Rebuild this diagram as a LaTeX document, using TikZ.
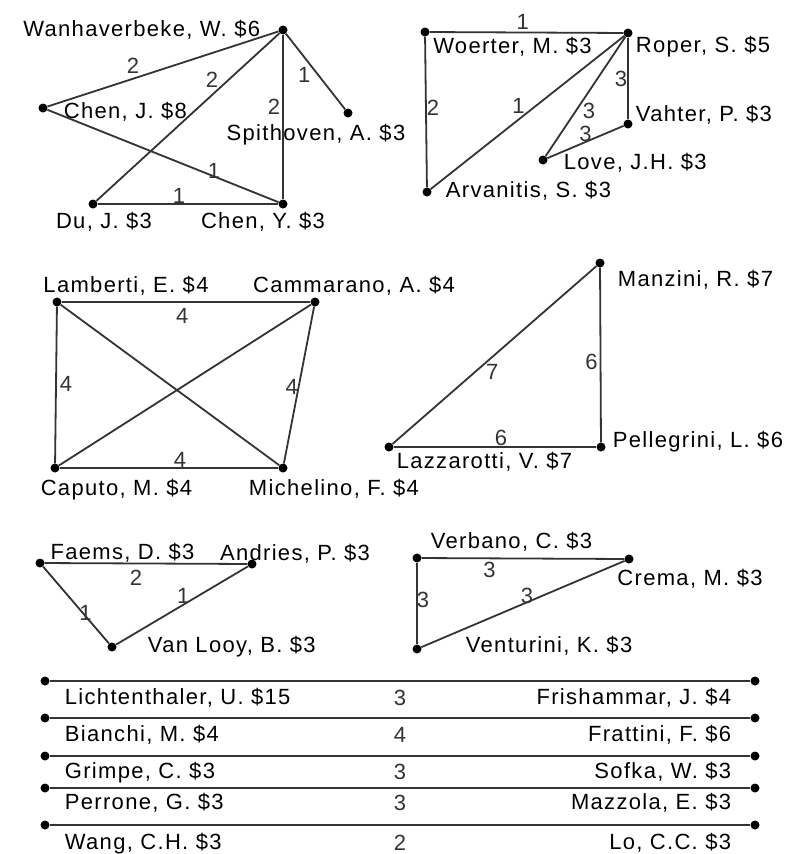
\documentclass[tikz,border=0pt]{standalone}
\usepackage{fontspec}
\setsansfont{Liberation Sans}[LetterSpace=6]
\usetikzlibrary{positioning}

\begin{document}
\begin{tikzpicture}[
  x=1pt, y=-1pt,
  font=\sffamily\fontsize{22}{26}\selectfont,
  vtx/.style={circle, fill=black, inner sep=0pt, minimum size=9pt},
  link/.style={line width=1.8pt, black!80},
  who/.style={inner sep=0pt, text height=16pt, text depth=4pt},
  wt/.style={inner sep=0pt, text height=15.5pt, text depth=0pt},
]
  \useasboundingbox (0,0) rectangle (785,854);

  % Group 1: Wanhaverbeke
  \node[vtx] (wan) at (283,30) {};
  \node[vtx] (chj) at (43,108) {};
  \node[vtx] (spit) at (348,113) {};
  \node[vtx] (du) at (93,204) {};
  \node[vtx] (chy) at (283,204) {};
  \node[who, left=18pt of wan] (wanL) {Wanhaverbeke, W. \$6};
  \node[who, right=16pt of chj, yshift=-4pt] (chjL) {Chen, J. \$8};
  \node[who, below=7pt of spit, xshift=-32pt] (spitL) {Spithoven, A. \$3};
  \node[who, below=4pt of du, xshift=11pt] (duL) {Du, J. \$3};
  \node[who, below=4pt of chy, xshift=-20pt] (chyL) {Chen, Y. \$3};
  \draw[link] (wan) -- node[wt, pos=0.63, above=4pt] {2} (chj);
  \draw[link] (wan) -- node[wt, pos=0.33, above left] {2} (du);
  \draw[link] (wan) -- node[wt, pos=0.44, left=2pt] {2} (chy);
  \draw[link] (wan) -- node[wt, pos=0.43, below left] {1} (spit);
  \draw[link] (chj) -- node[wt, pos=0.72, above=-3pt] {1} (chy);
  \draw[link] (du) -- node[wt, pos=0.45, above] {1} (chy);

  % Group 2: Roper
  \node[vtx] (woe) at (425,32) {};
  \node[vtx] (rop) at (628,33) {};
  \node[vtx] (vah) at (628,124) {};
  \node[vtx] (love) at (543,160) {};
  \node[vtx] (arv) at (427,192) {};
  \node[who, below=1pt of woe, xshift=87.5pt] (woeL) {Woerter, M. \$3};
  \node[who, right=3pt of rop, yshift=-13pt] (ropL) {Roper, S. \$5};
  \node[who, right=3pt of vah, yshift=9pt] (vahL) {Vahter, P. \$3};
  \node[who, right=16pt of love, yshift=-3pt] (loveL) {Love, J.H. \$3};
  \node[who, right=14pt of arv, yshift=1pt] (arvL) {Arvanitis, S. \$3};
  \draw[link] (woe) -- node[wt, pos=0.48, above=2pt] {1} (rop);
  \draw[link] (woe) -- node[wt, pos=0.47, right] {2} (arv);
  \draw[link] (rop) -- node[wt, pos=0.51, above left] {1} (arv);
  \draw[link] (rop) -- node[wt, pos=0.545, below right] {3} (love);
  \draw[link] (rop) -- node[wt, pos=0.505, left] {3} (vah);
  \draw[link] (vah) -- node[wt, pos=0.5, above] {3} (love);

  % Group 3: Lamberti
  \node[vtx] (lam) at (57,302) {};
  \node[vtx] (cam) at (315,302) {};
  \node[vtx] (cap) at (55,468) {};
  \node[vtx] (mic) at (283,468) {};
  \node[who, above=1pt of lam, xshift=69pt] (lamL) {Lamberti, E. \$4};
  \node[who, above=1pt of cam, xshift=39pt] (camL) {Cammarano, A. \$4};
  \node[who, below=7pt of cap, xshift=61.5pt] (capL) {Caputo, M. \$4};
  \node[who, below=7pt of mic, xshift=51pt] (micL) {Michelino, F. \$4};
  \draw[link] (lam) -- node[wt, pos=0.485, below=5pt] {4} (cam);
  \draw[link] (lam) -- node[wt, pos=0.49, right=3pt] {4} (cap);
  \draw[link] (cam) -- node[wt, pos=0.51, left] {4} (mic);
  \draw[link] (cap) -- node[wt, pos=0.55, above] {4} (mic);
  \draw[link] (lam) -- (mic);
  \draw[link] (cap) -- (cam);

  % Group 4: Manzini
  \node[vtx] (man) at (600,263) {};
  \node[vtx] (pel) at (601,447) {};
  \node[vtx] (laz) at (389,447) {};
  \node[who, right=13pt of man, yshift=-17pt] (manL) {Manzini, R. \$7};
  \node[who, right=7pt of pel, yshift=6pt] (pelL) {Pellegrini, L. \$6};
  \node[who, below=1pt of laz, xshift=95.5pt] (lazL) {Lazzarotti, V. \$7};
  \draw[link] (man) -- node[wt, pos=0.546, below right] {7} (laz);
  \draw[link] (man) -- node[wt, pos=0.54, left=2pt] {6} (pel);
  \draw[link] (laz) -- node[wt, pos=0.53, above=1pt] {6} (pel);

  % Group 5: Faems
  \node[vtx] (fae) at (40,563) {};
  \node[vtx] (andr) at (252,564) {};
  \node[vtx] (van) at (112,647) {};
  \node[who, above=-5pt of fae, xshift=82.5pt] (faeL) {Faems, D. \$3};
  \node[who, above=-5pt of andr, xshift=43pt] (andrL) {Andries, P. \$3};
  \node[who, right=31pt of van, yshift=1pt] (vanL) {Van Looy, B. \$3};
  \draw[link] (fae) -- node[wt, pos=0.45, below=6pt] {2} (andr);
  \draw[link] (fae) -- node[wt, pos=0.6, right=-4pt] {1} (van);
  \draw[link] (andr) -- node[wt, pos=0.49, above] {1} (van);

  % Group 6: Verbano
  \node[vtx] (verb) at (417,558) {};
  \node[vtx] (crem) at (629,559) {};
  \node[vtx] (vent) at (417,649) {};
  \node[who, above=1pt of verb, xshift=94.5pt] (verbL) {Verbano, C. \$3};
  \node[who, below=6pt of crem, xshift=61pt] (cremL) {Crema, M. \$3};
  \node[who, right=44pt of vent, yshift=3pt] (ventL) {Venturini, K. \$3};
  \draw[link] (verb) -- node[wt, pos=0.335, below=3pt] {3} (crem);
  \draw[link] (verb) -- node[wt, pos=0.46, right=-1pt] {3} (vent);
  \draw[link] (crem) -- node[wt, pos=0.48, above=-2pt] {3} (vent);

  % Pairs
  \node[vtx] (l1) at (45,681) {};
  \node[vtx] (r1) at (755,681) {};
  \node[who, right=15pt of l1, yshift=-17pt] (l1L) {Lichtenthaler, U. \$15};
  \node[who, left=19pt of r1, yshift=-17pt] (r1L) {Frishammar, J. \$4};
  \draw[link] (l1) -- node[wt, pos=0.5, below=8pt] {3} (r1);

  \node[vtx] (l2) at (45,718) {};
  \node[vtx] (r2) at (755,718) {};
  \node[who, right=15pt of l2, yshift=-17pt] (l2L) {Bianchi, M. \$4};
  \node[who, left=19pt of r2, yshift=-17pt] (r2L) {Frattini, F. \$6};
  \draw[link] (l2) -- node[wt, pos=0.5, below=8pt] {4} (r2);

  \node[vtx] (l3) at (45,756) {};
  \node[vtx] (r3) at (755,756) {};
  \node[who, right=15pt of l3, yshift=-16pt] (l3L) {Grimpe, C. \$3};
  \node[who, left=19pt of r3, yshift=-16pt] (r3L) {Sofka, W. \$3};
  \draw[link] (l3) -- node[wt, pos=0.5, below=7pt] {3} (r3);

  \node[vtx] (l4) at (45,788) {};
  \node[vtx] (r4) at (755,788) {};
  \node[who, right=15pt of l4, yshift=-15pt] (l4L) {Perrone, G. \$3};
  \node[who, left=19pt of r4, yshift=-15pt] (r4L) {Mazzola, E. \$3};
  \draw[link] (l4) -- node[wt, pos=0.5, below=6pt] {3} (r4);

  \node[vtx] (l5) at (45,825) {};
  \node[vtx] (r5) at (755,825) {};
  \node[who, right=15pt of l5, yshift=-18pt] (l5L) {Wang, C.H. \$3};
  \node[who, left=19pt of r5, yshift=-18pt] (r5L) {Lo, C.C. \$3};
  \draw[link] (l5) -- node[wt, pos=0.5, below=9pt] {2} (r5);
\end{tikzpicture}
\end{document}
